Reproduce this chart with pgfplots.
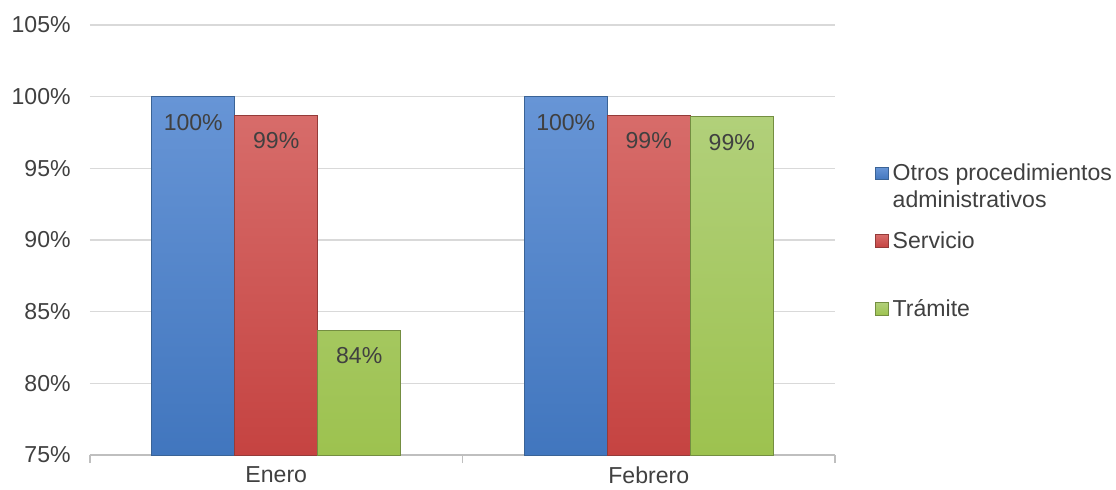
\documentclass[border=0pt]{standalone}
\usepackage{fontspec}
\setmainfont{Liberation Sans}
\usepackage{pgfplots}
\pgfplotsset{compat=1.18}
\definecolor{txt}{HTML}{404040}
\definecolor{cbluet}{HTML}{6795D6}
\definecolor{cblueb}{HTML}{4176BE}
\definecolor{cbluee}{HTML}{3A6396}
\definecolor{credt}{HTML}{D76C6A}
\definecolor{credb}{HTML}{C54341}
\definecolor{crede}{HTML}{943B39}
\definecolor{cgreent}{HTML}{B1D07A}
\definecolor{cgreenb}{HTML}{9DC24F}
\definecolor{cgreene}{HTML}{748E41}
\definecolor{gridc}{HTML}{D9D9D9}
\definecolor{axc}{HTML}{BFBFBF}
\newcommand{\fs}{\fontsize{17.3}{20.25}\selectfont}
\newcommand{\lent}[1]{\parbox[t]{168pt}{\raggedright #1}}
\begin{document}
\begin{tikzpicture}
\begin{axis}[
  scale only axis, width=558.75pt, height=322.5pt,
  ybar=0pt, bar width=62.25pt,
  xmin=-0.5, xmax=1.5, ymin=75, ymax=105,
  xtick={0,1}, xticklabels={Enero,Febrero},
  ytick={75,80,...,105},
  /pgf/number format/assume math mode=true,
  yticklabel={\pgfmathprintnumber{\tick}\%},
  axis x line*=bottom, axis y line*=left,
  y axis line style={draw=none},
  x axis line style={draw=axc, line width=0.8pt},
  ymajorgrids, grid style={draw=gridc, line width=0.8pt},
  major tick length=0pt,
  extra x ticks={-0.5,0.5,1.5}, extra x tick labels={},
  extra x tick style={grid=none, major tick length=6pt, tick align=outside, tick style={draw=axc, line width=0.8pt}},
  tick label style={font=\fs, text=txt},
  yticklabel style={xshift=-11pt},
  xticklabel style={yshift=-5pt},
  nodes near coords={\pgfmathprintnumber[fixed,precision=0]{\pgfplotspointmeta}\%},
  every node near coord/.append style={anchor=north, yshift=-12.75pt, inner sep=0pt, font=\fs, text=txt},
  legend style={at={(1.0537,0.677)}, anchor=north west, draw=none, fill=none, inner sep=0pt, row sep=36.7pt, column sep=3pt, nodes={inner sep=0pt, text=txt, font=\fs}},
  legend cell align=left,
  legend image code/.code={\draw[#1] (0pt,-4.75pt) rectangle (9.5pt,4.75pt);},
]
\addplot[top color=cbluet, bottom color=cblueb, draw=cbluee, line width=0.6pt] coordinates {(0,100) (1,100)};
\addplot[top color=credt, bottom color=credb, draw=crede, line width=0.6pt] coordinates {(0,98.7) (1,98.7)};
\addplot[top color=cgreent, bottom color=cgreenb, draw=cgreene, line width=0.6pt] coordinates {(0,83.7) (1,98.6)};
\addlegendentry{\lent{Otros procedimientos\\administrativos}}
\addlegendentry{\lent{Servicio}}
\addlegendentry{\lent{Trámite}}
\end{axis}
\pgfresetboundingbox
\path (-67.5pt,-25.5pt) rectangle (769.5pt,341.25pt);
\end{tikzpicture}
\end{document}
